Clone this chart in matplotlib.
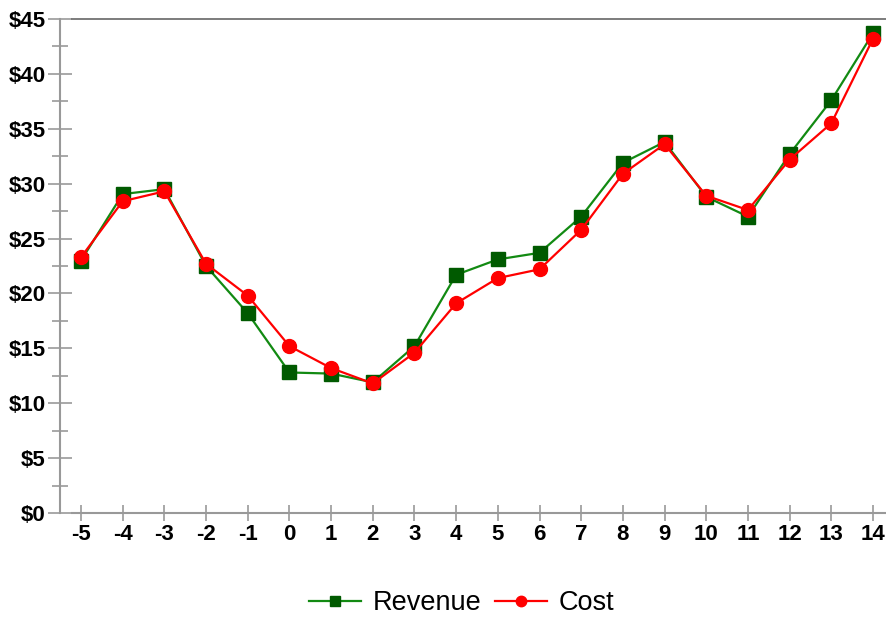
import numpy as np
import matplotlib.pyplot as plt
from matplotlib.ticker import MultipleLocator, FuncFormatter

periods = list(range(-5, 15))
revenue = [23.0, 29.05, 29.5, 22.5, 18.2, 12.8, 12.7, 11.9, 15.2, 21.7,
           23.1, 23.7, 27.0, 31.9, 33.8, 28.8, 27.0, 32.7, 37.6, 43.7]
cost = [23.3, 28.4, 29.3, 22.7, 19.8, 15.2, 13.2, 11.8, 14.6, 19.1,
        21.4, 22.2, 25.8, 30.9, 33.6, 28.9, 27.6, 32.2, 35.5, 43.2]

plt.rcParams['font.family'] = ['Liberation Sans', 'DejaVu Sans']

fig = plt.figure(figsize=(8.87, 6.17), dpi=100)
ax = fig.add_axes([60 / 887, 104 / 617, 827 / 887, 494 / 617])

ax.plot(periods, revenue, color='#128a12', lw=1.6, marker='s', ms=10,
        mfc='#005a00', mec='#005a00', label='Revenue', zorder=3)
ax.plot(periods, cost, color='#ff0000', lw=1.6, marker='o', ms=10,
        mfc='#ff0000', mec='#ff0000', label='Cost', zorder=4)

step = 41.68
ax.set_xlim(-5 - 21 / step, 14 + 14 / step)
ax.set_ylim(0, 45)

ax.spines['right'].set_visible(False)
ax.spines['left'].set_color('#999999')
ax.spines['left'].set_linewidth(1.5)
ax.spines['bottom'].set_color('#999999')
ax.spines['bottom'].set_linewidth(1.5)
ax.spines['bottom'].set_bounds(-5 - 9 / step, 14 + 14 / step)
ax.spines['top'].set_color('#666666')
ax.spines['top'].set_linewidth(1.2)
ax.spines['top'].set_bounds(-5 - 9 / step, 14 + 14 / step)

ax.set_xticks(periods)
ax.set_xticklabels([str(p) for p in periods])
ax.yaxis.set_major_locator(MultipleLocator(5))
ax.yaxis.set_minor_locator(MultipleLocator(2.5))
ax.yaxis.set_major_formatter(FuncFormatter(lambda v, p: f'${v:.0f}'))

ax.tick_params(axis='y', which='major', direction='inout', length=17,
               width=1.2, color='#999999', labelsize=16, pad=2)
ax.tick_params(axis='y', which='minor', direction='inout', length=11,
               width=1.2, color='#999999')
ax.tick_params(axis='x', which='major', direction='inout', length=12,
               width=1.2, color='#999999', labelsize=16, pad=2)
for lab in ax.get_xticklabels() + ax.get_yticklabels():
    lab.set_fontweight('bold')

leg = fig.legend(loc='center', bbox_to_anchor=(462 / 887, 1 - 603 / 617),
                 ncol=2, frameon=False, fontsize=19.5, handlelength=1.9,
                 markerscale=0.75, columnspacing=0.5, handletextpad=0.45)

fig.savefig('out.png', dpi=100)
